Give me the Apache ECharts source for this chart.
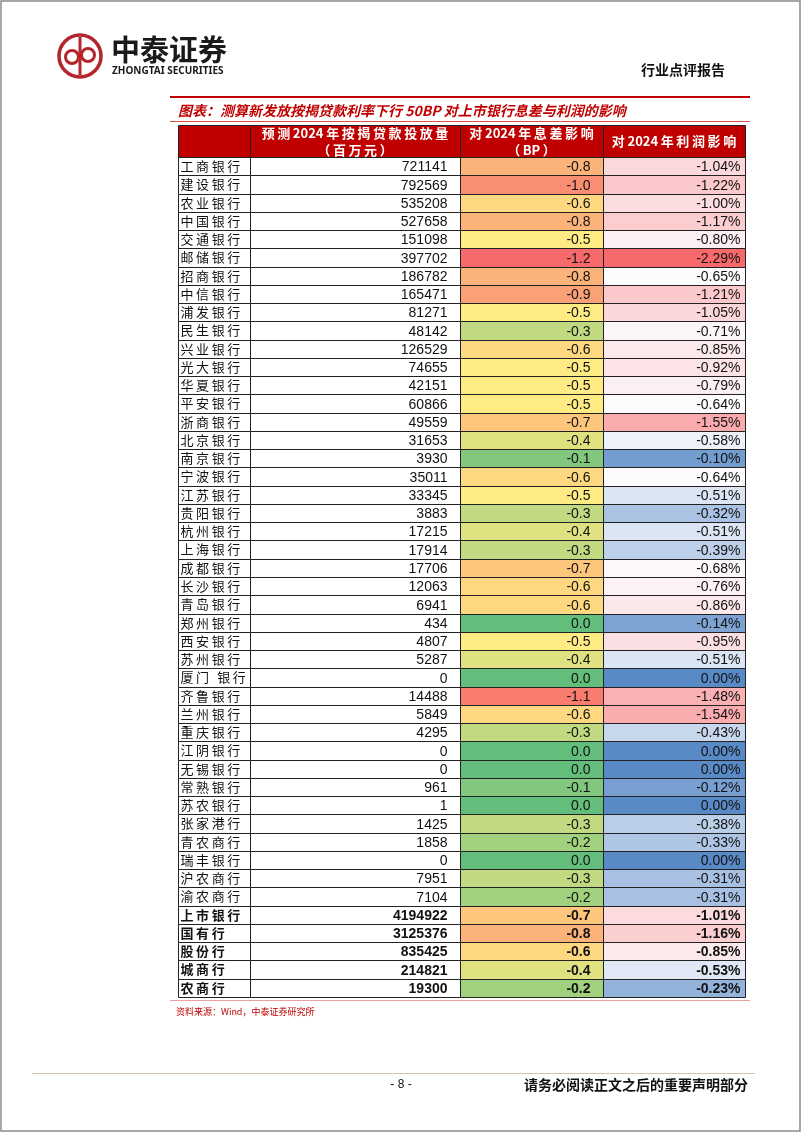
<!DOCTYPE html>
<html>
<head>
<meta charset="utf-8">
<script src="https://cdn.jsdelivr.net/npm/echarts@6/dist/echarts.min.js"></script>
<style>
    html, body {margin: 0; padding: 0; background: #fff;}
    #chart {width: 802px; height: 1133px;}
</style>
</head>
<body>
<div id="chart"></div>
<script>
    // row labels, the last five rows are group totals (bold)
    const banks = ['工商银行', '建设银行', '农业银行', '中国银行', '交通银行', '邮储银行', '招商银行', '中信银行', '浦发银行', '民生银行',
        '兴业银行', '光大银行', '华夏银行', '平安银行', '浙商银行', '北京银行', '南京银行', '宁波银行', '江苏银行', '贵阳银行',
        '杭州银行', '上海银行', '成都银行', '长沙银行', '青岛银行', '郑州银行', '西安银行', '苏州银行', '厦门 银行', '齐鲁银行',
        '兰州银行', '重庆银行', '江阴银行', '无锡银行', '常熟银行', '苏农银行', '张家港行', '青农商行', '瑞丰银行', '沪农商行',
        '渝农商行', '上市银行', '国有行', '股份行', '城商行', '农商行'];
    const boldFrom = 41;

    // 预测2024年按揭贷款投放量（百万元）
    const loans = [721141, 792569, 535208, 527658, 151098, 397702, 186782, 165471, 81271, 48142,
        126529, 74655, 42151, 60866, 49559, 31653, 3930, 35011, 33345, 3883,
        17215, 17914, 17706, 12063, 6941, 434, 4807, 5287, 0, 14488,
        5849, 4295, 0, 0, 961, 1, 1425, 1858, 0, 7951,
        7104, 4194922, 3125376, 835425, 214821, 19300];

    // 对2024年息差影响（BP）
    const nimImpact = [-0.8, -1.0, -0.6, -0.8, -0.5, -1.2, -0.8, -0.9, -0.5, -0.3,
        -0.6, -0.5, -0.5, -0.5, -0.7, -0.4, -0.1, -0.6, -0.5, -0.3,
        -0.4, -0.3, -0.7, -0.6, -0.6, 0.0, -0.5, -0.4, 0.0, -1.1,
        -0.6, -0.3, 0.0, 0.0, -0.1, 0.0, -0.3, -0.2, 0.0, -0.3,
        -0.2, -0.7, -0.8, -0.6, -0.4, -0.2];

    // 对2024年利润影响（%）
    const profitImpact = [-1.04, -1.22, -1.00, -1.17, -0.80, -2.29, -0.65, -1.21, -1.05, -0.71,
        -0.85, -0.92, -0.79, -0.64, -1.55, -0.58, -0.10, -0.64, -0.51, -0.32,
        -0.51, -0.39, -0.68, -0.76, -0.86, -0.14, -0.95, -0.51, 0.00, -1.48,
        -1.54, -0.43, 0.00, 0.00, -0.12, 0.00, -0.38, -0.33, 0.00, -0.31,
        -0.31, -1.01, -1.16, -0.85, -0.53, -0.23];

    const headers = ['', '预测2024年按揭贷款投放量\n（百万元）', '对2024年息差影响\n（BP）', '对2024年利润影响'];

    const cols = [178, 250, 460, 603, 745];
    const tableTop = 157, rowH = 18.26;
    const cjk = '"Noto Sans CJK SC", sans-serif';
    const num = '"Liberation Sans", Arial, sans-serif';
    const red = '#C00000';

    // thin space between characters, except inside runs of latin letters / digits
    function spaced(s) {
        const ch = s.split('');
        let out = ch[0] || '';
        for (let k = 1; k < ch.length; k++) {
            const a = ch[k - 1], b = ch[k];
            out += (/[\x00-\x7f]/.test(a) && /[\x00-\x7f]/.test(b)) ? b : '\u2009' + b;
        }
        return out;
    }

    // Excel style 3 colour scales: min / median / max
    function scale3(v, min, mid, max, cMin, cMid, cMax) {
        if (v <= mid) return echarts.color.lerp(Math.max(0, (v - min) / (mid - min)), [cMin, cMid]);
        return echarts.color.lerp(Math.min(1, (v - mid) / (max - mid)), [cMid, cMax]);
    }
    const nimColor = v => scale3(v, -1.2, -0.5, 0, '#F8696B', '#FFEB84', '#63BE7B');
    const profitColor = v => scale3(v, -2.29, -0.64, 0, '#F8696B', '#FCFCFF', '#5A8AC6');

    function cellSeries(gridIndex, textOf, fillOf, align) {
        return {
            type: 'custom',
            xAxisIndex: gridIndex,
            yAxisIndex: gridIndex,
            silent: true,
            data: banks.map((b, i) => [0, i]),
            renderItem(params, api) {
                const i = params.dataIndex;
                const p = api.coord([0, i]);
                const s = api.size([1, 1]);
                const x0 = Math.round(p[0] - s[0] / 2) + 0.5, x1 = Math.round(p[0] + s[0] / 2) + 0.5;
                const y0 = Math.round(p[1] - s[1] / 2) + 0.5, y1 = Math.round(p[1] + s[1] / 2) + 0.5;
                const bold = i >= boldFrom;
                const isName = gridIndex === 0;
                const tx = align === 'left' ? x0 + 2 : x1 - (gridIndex === 3 ? 5 : 13);
                return {
                    type: 'group',
                    children: [
                        {type: 'rect', shape: {x: x0, y: y0, width: x1 - x0, height: y1 - y0},
                            style: {fill: fillOf(i), stroke: '#222', lineWidth: 1}},
                        {type: 'text', style: {
                                text: textOf(i), x: tx, y: (y0 + y1) / 2 + (isName ? -0.5 : 1), align: align, verticalAlign: 'middle',
                                fontFamily: isName ? cjk : num, fontSize: isName ? 13 : 14,
                                fontWeight: bold ? 'bold' : 'normal', fill: '#111'
                            }}
                    ]
                };
            }
        };
    }

    const grids = [], xAxes = [], yAxes = [];
    for (let c = 0; c < 4; c++) {
        grids.push({left: cols[c], top: tableTop, width: cols[c + 1] - cols[c], height: rowH * banks.length});
        xAxes.push({type: 'category', gridIndex: c, data: [''], show: false});
        yAxes.push({type: 'category', gridIndex: c, data: banks, inverse: true, show: false});
    }

    // header cells
    const headerGraphics = [];
    for (let c = 0; c < 4; c++) {
        headerGraphics.push({
            type: 'rect', z: 10,
            shape: {x: cols[c] + 0.5, y: 125.5, width: cols[c + 1] - cols[c], height: tableTop - 125},
            style: {fill: red, stroke: '#222', lineWidth: 1}
        });
        if (headers[c]) {
            headerGraphics.push({
                type: 'text', z: 11,
                style: {
                    text: headers[c].split('\n').map(spaced).join('\n'),
                    x: (cols[c] + cols[c + 1]) / 2, y: 141.5, align: 'center', verticalAlign: 'middle',
                    fontFamily: cjk, fontSize: 13, fontWeight: 'bold', lineHeight: 17, fill: '#fff'
                }
            });
        }
    }

    const option = {
        animation: false,
        grid: grids,
        xAxis: xAxes,
        yAxis: yAxes,
        series: [
            cellSeries(0, i => spaced(banks[i]), () => '#fff', 'left'),
            cellSeries(1, i => String(loans[i]), () => '#fff', 'right'),
            cellSeries(2, i => nimImpact[i].toFixed(1), i => nimColor(nimImpact[i]), 'right'),
            cellSeries(3, i => profitImpact[i].toFixed(2) + '%', i => profitColor(profitImpact[i]), 'right')
        ],
        graphic: [
            // page frame
            {type: 'rect', shape: {x: 1, y: 1, width: 799, height: 1130}, style: {fill: 'none', stroke: '#8a8a8a', lineWidth: 1.5}},
            // logo
            {type: 'circle', shape: {cx: 80, cy: 56, r: 21}, style: {fill: 'none', stroke: '#B5262B', lineWidth: 3.5}},
            {type: 'line', shape: {x1: 80, y1: 37, x2: 80, y2: 75}, style: {stroke: '#B5262B', lineWidth: 3}},
            {type: 'circle', shape: {cx: 72, cy: 57, r: 6.5}, style: {fill: 'none', stroke: '#B5262B', lineWidth: 3}},
            {type: 'circle', shape: {cx: 88, cy: 55, r: 6.5}, style: {fill: 'none', stroke: '#B5262B', lineWidth: 3}},
            {type: 'text', style: {text: '中泰证券', x: 111, y: 50, verticalAlign: 'middle', fontFamily: cjk, fontSize: 29, fontWeight: 'bold', fill: '#1a1a1a'}},
            {type: 'text', style: {text: 'ZHONGTAI SECURITIES', x: 112, y: 71, verticalAlign: 'middle', fontFamily: '"Noto Sans", sans-serif', fontSize: 10, fontWeight: 'bold', fill: '#1a1a1a'}},
            {type: 'text', style: {text: '行业点评报告', x: 725, y: 70, align: 'right', verticalAlign: 'middle', fontFamily: cjk, fontSize: 14, fontWeight: 'bold', fill: '#111'}},
            // title block
            {type: 'line', shape: {x1: 170, y1: 97, x2: 750, y2: 97}, style: {stroke: red, lineWidth: 2}},
            {type: 'text', style: {text: '图表：测算新发放按揭贷款利率下行 50BP 对上市银行息差与利润的影响', x: 178, y: 111, verticalAlign: 'middle',
                    fontFamily: cjk, fontSize: 14, fontWeight: 'bold', fontStyle: 'italic', fill: red}},
            {type: 'line', shape: {x1: 170, y1: 121.5, x2: 750, y2: 121.5}, style: {stroke: '#D9534F', lineWidth: 1}},
            ...headerGraphics,
            // source + footer
            {type: 'line', shape: {x1: 170, y1: 1000.5, x2: 750, y2: 1000.5}, style: {stroke: '#E8A0A0', lineWidth: 1}},
            {type: 'text', style: {text: '资料来源：Wind，中泰证券研究所', x: 176, y: 1012, verticalAlign: 'middle', fontFamily: cjk, fontSize: 9, fill: red}},
            {type: 'line', shape: {x1: 32, y1: 1073.5, x2: 755, y2: 1073.5}, style: {stroke: '#CFC2B0', lineWidth: 1}},
            {type: 'text', style: {text: '- 8 -', x: 401, y: 1085, align: 'center', verticalAlign: 'middle', fontFamily: num, fontSize: 12, fill: '#111'}},
            {type: 'text', style: {text: '请务必阅读正文之后的重要声明部分', x: 748, y: 1085, align: 'right', verticalAlign: 'middle', fontFamily: cjk, fontSize: 14, fontWeight: 'bold', fill: '#111'}}
        ]
    };

    const myChart = echarts.init(document.getElementById('chart'), null, {renderer: 'canvas'});
    myChart.setOption(option);
</script>
</body>
</html>
